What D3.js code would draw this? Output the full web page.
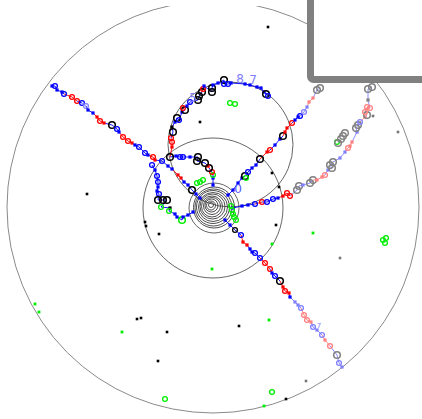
<!DOCTYPE html>
<html>
<head>
<meta charset="utf-8">
<script src="https://cdn.jsdelivr.net/npm/d3@7"></script>
<style>
  html, body { margin: 0; padding: 0; background: #fff; overflow: hidden; }
  svg { display: block; }
</style>
</head>
<body>
<svg id="chart" width="422" height="419"></svg>
<script>
// Track samples: [x, y, style]; style = colour key + marker (". " dot, "o" small ring, "O" large ring)
const trackNW = [
  [-161,121,"B."],[-158,121,"Bo"],[-156,117,"B."],[-151,115,"B."],[-149,113,"Bo"],
  [-141,110,"Ro"],[-136,106,"Ro"],[-131,104,"Bo"],[-127,101,"Lo"],[-125,97,"B."],
  [-120,94,"B."],[-116,90,"R."],[-113,86,"Ro"],[-109,84,"R."],[-101,82,"KO"],
  [-96,78,"Bo"],[-94,75,"B."],[-90,70,"Ro"],[-85,66,"Ro"],[-81,64,"R."],
  [-78,62,"B."],[-74,60,"Bo"],[-68,54,"Bo"],[-65,52,"B."],[-60,50,"Ro"],
  [-58,47,"R."],[-51,46,"Bo"],[-45,41,"B."],[-41,38,"B."],[-35,32,"R."],
  [-32,29,"R."],[-29,25,"B."],[-25,22,"B."],[-21,17,"KO"],[-17,13,"B."],[-13,9,"B."]
];
const trackSE = [
  [12,-13,"B."],[17,-18,"B."],[22,-23,"Ko"],[28,-28,"Bo"],[30,-35,"R."],[34,-38,"R."],
  [37,-42,"B."],[39,-45,"B."],[42,-46,"Bo"],[47,-51,"Bo"],[52,-56,"Ro"],[57,-62,"Ro"],
  [59,-66,"B."],[62,-69,"Bo"],[67,-74,"KO"],[70,-80,"R."],[72,-84,"Ro"],[76,-86,"R."],
  [77,-90,"B."],[82,-95,"L."],[85,-98,"L."],[88,-101,"Lo"],[91,-108,"Po"],[94,-113,"Po"],
  [98,-115,"P."],[100,-120,"Lo"],[104,-123,"L."],[109,-128,"Lo"],[112,-133,"P."],
  [117,-139,"Po"],[124,-148,"YO"],[126,-156,"Lo"],[129,-160,"L."]
];
const trackEast = [
  [20,-1,"B."],[29,1,"B."],[35,2,"B."],[42,3,"Bo"],[49,5,"Ro"],[54,5,"Bo"],[60,8,"Bo"],
  [65,9,"B."],[70,11,"R."],[74,14,"Ro"],[77,11,"Ro"],[84,17,"YO"],[86,21,"YO"],
  [90,22,"L."],[97,24,"YO"],[100,27,"YO"],[104,27,"P."],[109,30,"P."],[112,32,"Po"],
  [115,37,"L."],[119,39,"YO"],[117,42,"YO"],[120,45,"YO"],[127,49,"L."],[132,55,"L."],
  [135,59,"Po"],[137,61,"P."],[139,65,"P."],[144,75,"L."],[143,79,"YO"],[145,82,"YO"],
  [147,85,"Lo"],[152,90,"P."],[154,92,"YO"],[152,95,"Po"],[154,100,"Po"],[157,99,"Po"],
  [155,107,"Y."],[155,118,"YO"],[159,120,"YO"]
];
const trackNE = [
  [15,12,"B."],[20,17,"B."],[25,24,"B."],[29,29,"B."],[32,31,"KO"],[35,35,"Bo"],
  [39,39,"B."],[43,42,"B."],[47,48,"KO"],[54,55,"R."],[57,57,"Ro"],[62,62,"B."],
  [67,68,"B."],[70,71,"KO"],[72,75,"R."],[74,79,"R."],[79,84,"Ro"],[82,87,"B."],
  [85,90,"B."],[87,91,"Bo"],[91,95,"Lo"],[94,100,"L."],[96,105,"P."],[100,109,"P."],
  [104,117,"YO"],[107,119,"YO"]
];
const trackLoop = [
  [0,22,"B."],[0,29,"B."],[0,32,"Go"],[-1,35,"Ro"],[-4,39,"KO"],[-5,41,"R."],
  [-8,44,"KO"],[-16,46,"KO"],[-15,50,"KO"],[-23,50,"B."],[-30,50,"Bo"],[-33,50,"Bo"],
  [-37,51,"B."],[-43,50,"KO"],[-41,60,"R."],[-41,65,"Ro"],[-42,69,"Ro"],[-40,75,"KO"],
  [-41,80,"K."],[-38,85,"B."],[-36,89,"KO"],[-34,87,"Bo"],[-31,95,"B."],[-28,97,"KO"],
  [-30,99,"Ro"],[-26,101,"B."],[-23,105,"Bo"],[-15,107,"KO"],[-14,111,"KO"],
  [-11,115,"KO"],[-10,118,"Ro"],[-9,121,"B."],[-1,115,"KO"],[-1,119,"KO"],[0,122,"B."],
  [5,124,"B."],[11,127,"KO"],[11,123,"Bo"],[15,123,"Bo"],[18,124,"B."],[32,123,"B."],
  [37,122,"B."],[44,120,"B."],[48,119,"B."],[51,115,"B."],[53,113,"KO"],[55,111,"Bo"]
];
const trackWest = [
  [-61,42,"Bo"],[-58,37,"B."],[-56,31,"Bo"],[-55,25,"Bo"],[-55,20,"B."],[-56,16,"B."],
  [-54,13,"Bo"],[-55,7,"KO"],[-50,7,"KO"],[-46,7,"KO"],[-52,0,"Go"],[-43,-1,"K."],
  [-44,-4,"Go"],[-38,-7,"B."],[-36,-10,"B."],[-31,-13,"GO"],[-30,-10,"B."],
  [-25,-8,"B."],[-20,-5,"B."]
];

// Loose single observations
const looseBlack = [
  [55,180],[-126,13],[-54,-27],[-76,-112],[-72,-111],[-46,-125],[-55,-154],[26,-119],
  [73,-192],[63,-18],[-13,85],[59,34],[66,20],[-68,-15],[-67,-19]
];
const looseGray = [[93,-174],[127,-51],[185,75],[160,91]];
const looseGreen = [
  [-178,-97],[-174,-105],[-91,-125],[-1,-62],[56,-113],[51,-199],[100,-26],[59,-37]
];
const greenRings = [
  [-48,-192],[59,-185],[170,-33],[173,-31],[172,-36],[17,104],[22,103],
  [-16,24],[-13,25],[-10,27],[18,1],[19,-3],[20,-7],[21,-10],[23,-13],[124,65],[33,29]
];
const grayRings = [[125,64],[128,68],[130,71],[132,74]];

// Reference circles: [cx, cy, r]
const guideCircles = [[17.5,62.5,62.5],[0,-1,70],[1,-1,25]];
const outerRadius = 206;

// Core rings around the origin
const coreRadii = [2.5,4.5,6.5,8.5,10.5,12.5,14.5,16.5,18.5,20.5];
const coreShiftX = [-2,-2,-1.5,-1,-1,-0.5,0,0,0.5,1];
const coreShiftY = [2,1.5,1.5,1,0.5,0.5,0,0,-0.5,-0.5];

// Track labels: [x, y, text]
const trackLabels = [[27,128,"8"],[40,127,"7"],[-20,109,"5"],[25,18,"0"]];
const smallLabels = [[106,-119,"7"]];

const palette = { B:"#0000ff", R:"#ff0000", K:"#000000", G:"#00ee00",
                  L:"#8080ff", P:"#ff8080", Y:"#808080" };
const linkColor = { B:"#0000ff", R:"#ff0000", K:"#0000ff", G:"#0000ff",
                    L:"#8080ff", P:"#ff8080", Y:"#8080ff" };

const W = 422, H = 419;
const x = d3.scaleLinear().domain([-213, 209]).range([0, W]);
const y = d3.scaleLinear().domain([207, -212]).range([0, H]);
const len = v => x(v) - x(0);

const svg = d3.select("#chart");

svg.append("defs").append("clipPath").attr("id", "plotClip")
  .append("rect").attr("x", 0).attr("y", 6).attr("width", W).attr("height", H);

// outer boundary
svg.append("circle")
  .attr("clip-path", "url(#plotClip)")
  .attr("cx", x(0)).attr("cy", y(0)).attr("r", len(outerRadius))
  .attr("fill", "none").attr("stroke", "#8a8a8a").attr("stroke-width", 1);

// reference circles
svg.append("g").selectAll("circle").data(guideCircles).join("circle")
  .attr("cx", d => x(d[0])).attr("cy", d => y(d[1])).attr("r", d => len(d[2]))
  .attr("fill", "none").attr("stroke", "#555").attr("stroke-width", 0.9);

// core rings
svg.append("g").selectAll("circle").data(coreRadii).join("circle")
  .attr("cx", (d, i) => x(coreShiftX[i])).attr("cy", (d, i) => y(coreShiftY[i]))
  .attr("r", d => len(d))
  .attr("fill", "none").attr("stroke", "#222").attr("stroke-width", 0.8);

const tracks = [trackNW, trackSE, trackEast, trackNE, trackLoop, trackWest];

// connecting segments
const linkG = svg.append("g");
tracks.forEach(tr => {
  const segs = d3.pairs(tr);
  linkG.append("g").selectAll("line").data(segs).join("line")
    .attr("x1", d => x(d[0][0])).attr("y1", d => y(d[0][1]))
    .attr("x2", d => x(d[1][0])).attr("y2", d => y(d[1][1]))
    .attr("stroke", d => linkColor[d[1][2][0]])
    .attr("stroke-width", 0.9);
});

// markers
function drawMarkers(g, pts) {
  pts.forEach(p => {
    const c = palette[p[2][0]], shape = p[2][1];
    if (shape === ".") {
      g.append("rect")
        .attr("x", x(p[0]) - 1.6).attr("y", y(p[1]) - 1.6)
        .attr("width", 3.2).attr("height", 3.2).attr("fill", c);
    } else {
      g.append("circle")
        .attr("cx", x(p[0])).attr("cy", y(p[1]))
        .attr("r", shape === "O" ? 3.3 : 2.4)
        .attr("fill", "none").attr("stroke", c)
        .attr("stroke-width", shape === "O" ? 1.5 : 1.3);
    }
  });
}
const markG = svg.append("g");
tracks.forEach(tr => drawMarkers(markG, tr));

// loose observations
const looseG = svg.append("g");
looseG.selectAll("rect.k").data(looseBlack).join("rect").attr("class", "k")
  .attr("x", d => x(d[0]) - 1.3).attr("y", d => y(d[1]) - 1.3)
  .attr("width", 2.6).attr("height", 2.6).attr("fill", "#000");
looseG.selectAll("rect.y").data(looseGray).join("rect").attr("class", "y")
  .attr("x", d => x(d[0]) - 1.3).attr("y", d => y(d[1]) - 1.3)
  .attr("width", 2.6).attr("height", 2.6).attr("fill", "#777");
looseG.selectAll("rect.g").data(looseGreen).join("rect").attr("class", "g")
  .attr("x", d => x(d[0]) - 1.4).attr("y", d => y(d[1]) - 1.4)
  .attr("width", 2.8).attr("height", 2.8).attr("fill", "#00ee00");
looseG.selectAll("circle.g").data(greenRings).join("circle").attr("class", "g")
  .attr("cx", d => x(d[0])).attr("cy", d => y(d[1])).attr("r", 2.4)
  .attr("fill", "none").attr("stroke", "#00ee00").attr("stroke-width", 1.3);
looseG.selectAll("circle.y").data(grayRings).join("circle").attr("class", "y")
  .attr("cx", d => x(d[0])).attr("cy", d => y(d[1])).attr("r", 3.3)
  .attr("fill", "none").attr("stroke", "#808080").attr("stroke-width", 1.4);

// labels
svg.append("g").selectAll("text").data(trackLabels).join("text")
  .attr("x", d => x(d[0])).attr("y", d => y(d[1]))
  .attr("text-anchor", "middle").attr("dominant-baseline", "central")
  .attr("font-family", "DejaVu Sans, sans-serif").attr("font-size", 12)
  .attr("fill", d => d[2] === "0" ? "#5050ff" : "#8080ff")
  .text(d => d[2]);
svg.append("g").selectAll("text").data(smallLabels).join("text")
  .attr("x", d => x(d[0])).attr("y", d => y(d[1]))
  .attr("text-anchor", "middle").attr("dominant-baseline", "central")
  .attr("font-family", "DejaVu Sans, sans-serif").attr("font-size", 7)
  .attr("fill", "#8080ff").text(d => d[2]);

// key frame at the upper right
svg.append("rect")
  .attr("x", 310.5).attr("y", -20).attr("width", 150).attr("height", 99.5)
  .attr("rx", 3).attr("fill", "#fff")
  .attr("stroke", "#808080").attr("stroke-width", 7);
</script>
</body>
</html>
